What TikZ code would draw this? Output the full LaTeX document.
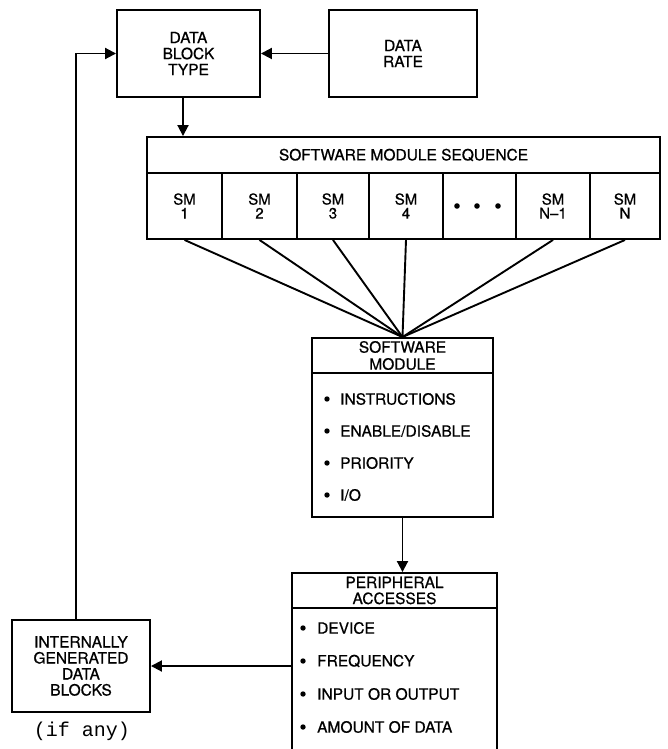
\documentclass[tikz,border=0pt]{standalone}
\usepackage{fontspec}
\setmainfont{TeX Gyre Heros}[FakeBold=0.7]
\newfontfamily\monofam{Liberation Mono}
\usetikzlibrary{arrows.meta}
\begin{document}
\begin{tikzpicture}[x=1pt,y=-1pt,
  box/.style={draw,line width=1.9pt,inner sep=0pt,align=center,font=\fontsize{15.5}{16}\selectfont},
  cell/.style={box,minimum height=66pt,font=\fontsize{15}{14}\selectfont},
  item/.style={anchor=west,inner sep=0pt,font=\fontsize{15.5}{16}\selectfont},
  conn/.style={line width=1.9pt},
  arr/.style={conn,-{Triangle[length=11pt,width=11pt]}}]
\useasboundingbox (0,0) rectangle (667,749);
\clip (0,0) rectangle (667,749);
% top boxes
\node[box,minimum width=143pt,minimum height=87pt] (dbt) at (188.5,53.5) {DATA\\BLOCK\\TYPE};
\node[box,minimum width=148pt,minimum height=87pt] (rate) at (403,53.5) {DATA\\RATE};
% software module sequence
\node[box,minimum width=513pt,minimum height=36pt] (sms) at (403.5,155) {SOFTWARE MODULE SEQUENCE};
\node[cell,minimum width=75pt] (c1) at (184.5,206) {SM\\1};
\node[cell,minimum width=75pt] (c2) at (259.5,206) {SM\\2};
\node[cell,minimum width=72pt] (c3) at (333,206) {SM\\3};
\node[cell,minimum width=74pt] (c4) at (406,206) {SM\\4};
\node[cell,minimum width=73pt] (c5) at (479.5,206) {};
\node[cell,minimum width=74pt] (c6) at (553,206) {SM\\N\textendash 1};
\node[cell,minimum width=70pt] (c7) at (625,206) {SM\\N};
\fill (457,206) circle (2.8) (477,206) circle (2.8) (498,206) circle (2.8);
% software module
\node[box,minimum width=181pt,minimum height=35pt,font=\fontsize{15.5}{17}\selectfont] (swh) at (402.5,355.5) {SOFTWARE\\MODULE};
\node[box,minimum width=181pt,minimum height=144pt] (swb) at (402.5,445) {};
\node[item] (s1) at (340,399) {INSTRUCTIONS};
\node[item] (s2) at (340,431) {ENABLE/DISABLE};
\node[item] (s3) at (340,463) {PRIORITY};
\node[item] (s4) at (340,495) {I/O};
\fill (327,399) circle (2.7) (327,431) circle (2.7) (327,463) circle (2.7) (327,495) circle (2.7);
% peripheral accesses
\node[box,minimum width=205pt,minimum height=35pt] (perh) at (394.5,590.5) {PERIPHERAL\\ACCESSES};
\node[box,minimum width=205pt,minimum height=160pt] (perb) at (394.5,688) {};
\node[item] (p1) at (317,628) {DEVICE};
\node[item] (p2) at (317,661) {FREQUENCY};
\node[item] (p3) at (317,694) {INPUT OR OUTPUT};
\node[item] (p4) at (317,727) {AMOUNT OF DATA};
\fill (303,628) circle (2.7) (303,661) circle (2.7) (303,694) circle (2.7) (303,727) circle (2.7);
% internally generated
\node[box,minimum width=138pt,minimum height=92pt] (int) at (81,666) {INTERNALLY\\GENERATED\\DATA\\BLOCKS};
\node[inner sep=0pt,font=\monofam\fontsize{20}{22}\selectfont] (ifany) at (82,731) {(if any)};
% connectors
\draw[arr] (rate.west) -- (dbt.east);
\coordinate (dx) at (183,0);
\draw[arr] (dbt.south -| dx) -- (sms.north -| dx);
\foreach \c in {c1,c2,c3,c4,c6,c7} \draw[conn] (\c.south) -- (swh.north);
\draw[arr] (swb.south) -- (perh.north -| swb.south);
\draw[arr] (int.east -| perb.west) -- (int.east);
\coordinate (lx) at (76,0);
\draw[arr] (int.north -| lx) |- (dbt.west);
\end{tikzpicture}
\end{document}
